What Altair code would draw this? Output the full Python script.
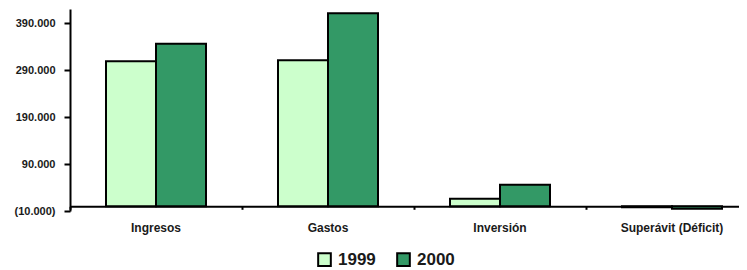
import altair as alt
import pandas as pd

categories = ["Ingresos", "Gastos", "Inversión", "Superávit (Déficit)"]
years = ["1999", "2000"]
values_1999 = [309000, 311000, 16000, -2000]
values_2000 = [346000, 411000, 46000, -5000]
y_ticks = [-10000, 90000, 190000, 290000, 390000]
colors = ["#CCFFCC", "#339966"]

rows = []
for c, a, b in zip(categories, values_1999, values_2000):
    rows.append({"cat": c, "year": years[0], "value": a})
    rows.append({"cat": c, "year": years[1], "value": b})
df = pd.DataFrame(rows)

label_expr = ("datum.value < 0 ? '(' + replace(format(-datum.value, ','), ',', '.') + ')' "
              ": replace(format(datum.value, ','), ',', '.')")

FONT = "Liberation Sans"

chart = alt.Chart(df).mark_bar(stroke="black", strokeWidth=2).encode(
    x=alt.X("cat:N", sort=categories, title=None,
            scale=alt.Scale(range=[0, 688], paddingInner=0, paddingOuter=0),
            axis=alt.Axis(labelAngle=0, bandPosition=0, tickSize=3, offset=-4.7,
                          domainColor="black", domainWidth=2, tickColor="black", tickWidth=2,
                          labelPadding=13, labelFont=FONT, labelFontWeight="bold",
                          labelFontSize=12, labelColor="#1a1a1a")),
    xOffset=alt.XOffset("year:N", scale=alt.Scale(paddingInner=0, paddingOuter=0.72)),
    y=alt.Y("value:Q", title=None,
            scale=alt.Scale(domain=[-10000, 420000], nice=False, zero=False),
            axis=alt.Axis(values=y_ticks, labelExpr=label_expr, grid=False,
                          domainColor="black", domainWidth=2, tickColor="black", tickWidth=2,
                          tickSize=6, labelPadding=9, labelFont=FONT, labelFontWeight="bold",
                          labelFontSize=11, labelColor="#1a1a1a")),
    color=alt.Color("year:N", scale=alt.Scale(domain=years, range=colors),
                    legend=alt.Legend(orient="none", legendX=246, legendY=242,
                                      direction="horizontal", title=None,
                                      symbolType="square", symbolSize=160,
                                      symbolStrokeColor="black", symbolStrokeWidth=2,
                                      labelFont=FONT, labelFontSize=17, labelFontWeight="bold",
                                      labelColor="#1a1a1a", labelOffset=5, columnPadding=17,
                                      padding=0)),
).properties(
    width=669, height=202,
    autosize=alt.AutoSizeParams(type="none"),
    padding={"left": 62, "top": 1, "right": 0, "bottom": 59},
).configure_view(stroke=None)

chart.save("out.html", embed_options={"renderer": "svg", "actions": False})
